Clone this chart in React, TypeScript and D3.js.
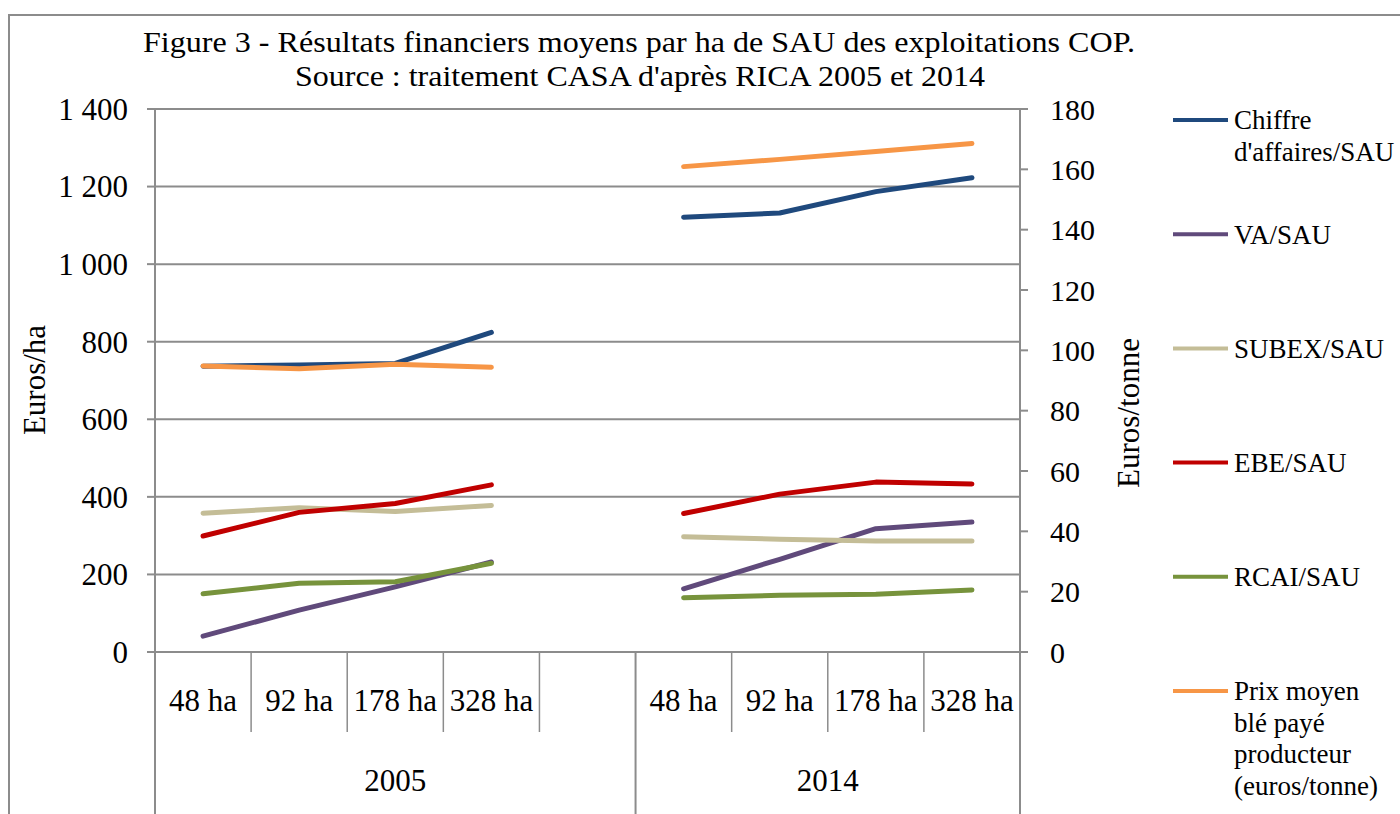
import React from 'react'
import * as d3 from 'd3'

// Données (euros/ha, sauf le prix du blé en euros/tonne)
const sizes = ['48 ha', '92 ha', '178 ha', '328 ha']
const years = ['2005', '2014']

const chiffre2005 = [737, 740, 744, 824]
const chiffre2014 = [1121, 1132, 1187, 1223]
const va2005 = [41, 108, 168, 232]
const va2014 = [163, 239, 318, 335]
const subex2005 = [358, 372, 362, 378]
const subex2014 = [297, 291, 286, 286]
const ebe2005 = [299, 360, 383, 431]
const ebe2014 = [357, 407, 438, 433]
const rcai2005 = [150, 177, 181, 229]
const rcai2014 = [140, 146, 149, 160]
const prix2005 = [94.8, 93.9, 95.4, 94.4]
const prix2014 = [160.9, 163.3, 165.9, 168.6]

const leftTicks = [0, 200, 400, 600, 800, 1000, 1200, 1400]
const rightTicks = [0, 20, 40, 60, 80, 100, 120, 140, 160, 180]

const series = [
  { name: ['Chiffre', "d'affaires/SAU"], color: '#1F497D', axis: 'left', v2005: chiffre2005, v2014: chiffre2014 },
  { name: ['VA/SAU'], color: '#604A7B', axis: 'left', v2005: va2005, v2014: va2014 },
  { name: ['SUBEX/SAU'], color: '#C4BD97', axis: 'left', v2005: subex2005, v2014: subex2014 },
  { name: ['EBE/SAU'], color: '#C00000', axis: 'left', v2005: ebe2005, v2014: ebe2014 },
  { name: ['RCAI/SAU'], color: '#77933C', axis: 'left', v2005: rcai2005, v2014: rcai2014 },
  { name: ['Prix moyen', 'blé payé', 'producteur', '(euros/tonne)'], color: '#F79646', axis: 'right', v2005: prix2005, v2014: prix2014 }
]

const W = 1400
const H = 814
const font = '"Liberation Serif", "Times New Roman", serif'
const grey = '#8C8C8C'

// 2005 : 4 classes + une case vide, 2014 : 4 classes
const slots = [
  ...sizes.map(s => `2005|${s}`), '2005|',
  ...sizes.map(s => `2014|${s}`)
]

const plot = { left: 155, right: 1020, top: 109, bottom: 652 }

const x = d3.scaleBand().domain(slots).range([plot.left, plot.right]).padding(0)
const yL = d3.scaleLinear().domain([0, 1400]).range([plot.bottom, plot.top])
const yR = d3.scaleLinear().domain([0, 180]).range([plot.bottom, plot.top])

const fmt = (v: number) => d3.format(',')(v).replace(',', ' ')

export default function App() {
  const line = d3.line<[number, number]>().x(d => d[0]).y(d => d[1])

  const paths = []
  series.forEach((s, i) => {
    const y = s.axis === 'left' ? yL : yR
    years.forEach(yr => {
      const vals = yr === '2005' ? s.v2005 : s.v2014
      const pts: [number, number][] = vals.map((v, k) => [
        (x(`${yr}|${sizes[k]}`) as number) + x.bandwidth() / 2,
        y(v)
      ])
      paths.push(
        <path key={`${i}-${yr}`} d={line(pts) as string} fill="none" stroke={s.color}
          strokeWidth={5} strokeLinecap="round" strokeLinejoin="round" />
      )
    })
  })

  const groupEdges = [plot.left, x('2014|48 ha') as number, plot.right]
  const rowDividers = slots.slice(1).map(s => x(s) as number).filter(v => !groupEdges.includes(v))

  const legendTop = 120
  const legendStep = 114.2

  return (
    <div style={{ position: 'fixed', left: 0, top: 0 }}>
      <svg width={W} height={H} style={{ display: 'block', background: '#fff', fontFamily: font }}>
        <rect x={9} y={15} width={W + 20} height={H + 20} fill="#fff" stroke={grey} strokeWidth={2} />

        <text x={639} y={52} textAnchor="middle" fontSize={30} textLength={992} lengthAdjust="spacingAndGlyphs">
          Figure 3 - Résultats financiers moyens par ha de SAU des exploitations COP.
        </text>
        <text x={640} y={86} textAnchor="middle" fontSize={30} textLength={690} lengthAdjust="spacingAndGlyphs">
          Source : traitement CASA d'après RICA 2005 et 2014
        </text>

        {/* grille */}
        {leftTicks.slice(1).map(t => (
          <line key={`g${t}`} x1={plot.left} x2={plot.right} y1={yL(t)} y2={yL(t)} stroke={grey} strokeWidth={2} />
        ))}

        {/* axe gauche */}
        <line x1={plot.left} x2={plot.left} y1={plot.top} y2={plot.bottom} stroke={grey} strokeWidth={2} />
        {leftTicks.map(t => (
          <g key={`l${t}`}>
            <line x1={plot.left - 8} x2={plot.left} y1={yL(t)} y2={yL(t)} stroke={grey} strokeWidth={2} />
            <text x={128} y={yL(t)} dy="0.35em" textAnchor="end" fontSize={31}>{fmt(t)}</text>
          </g>
        ))}
        <text transform={`translate(45,380) rotate(-90)`} textAnchor="middle" fontSize={31}>Euros/ha</text>

        {/* axe droit */}
        <line x1={plot.right} x2={plot.right} y1={plot.top} y2={H} stroke={grey} strokeWidth={2} />
        {rightTicks.map(t => (
          <g key={`r${t}`}>
            <line x1={plot.right} x2={plot.right + 8} y1={yR(t)} y2={yR(t)} stroke={grey} strokeWidth={2} />
            <text x={1050} y={yR(t)} dy="0.35em" textAnchor="start" fontSize={30}>{t}</text>
          </g>
        ))}
        <text transform={`translate(1139,413) rotate(-90)`} textAnchor="middle" fontSize={31}>Euros/tonne</text>

        {/* axe des catégories */}
        <line x1={plot.left - 8} x2={plot.right + 8} y1={plot.bottom} y2={plot.bottom} stroke={grey} strokeWidth={2} />
        {groupEdges.map(v => (
          <line key={`e${v}`} x1={v} x2={v} y1={plot.bottom} y2={H} stroke={grey} strokeWidth={2} />
        ))}
        {rowDividers.map(v => (
          <line key={`d${v}`} x1={v} x2={v} y1={plot.bottom} y2={732} stroke={grey} strokeWidth={1.5} />
        ))}
        {slots.map(s => {
          const label = s.split('|')[1]
          return label ? (
            <text key={`c${s}`} x={(x(s) as number) + x.bandwidth() / 2} y={700} dy="0.35em" textAnchor="middle" fontSize={31}>{label}</text>
          ) : null
        })}
        {years.map((yr, i) => (
          <text key={yr} x={(groupEdges[i] + groupEdges[i + 1]) / 2} y={780} dy="0.35em" textAnchor="middle" fontSize={31}>{yr}</text>
        ))}

        {paths}

        {/* légende */}
        {series.map((s, i) => {
          const ly = legendTop + i * legendStep
          return (
            <g key={`lg${i}`}>
              <line x1={1173} x2={1228} y1={ly} y2={ly} stroke={s.color} strokeWidth={4} />
              {s.name.map((n, k) => (
                <text key={k} x={1234} y={ly + k * 31.5} dy="0.35em" fontSize={27}>{n}</text>
              ))}
            </g>
          )
        })}
      </svg>
    </div>
  )
}
